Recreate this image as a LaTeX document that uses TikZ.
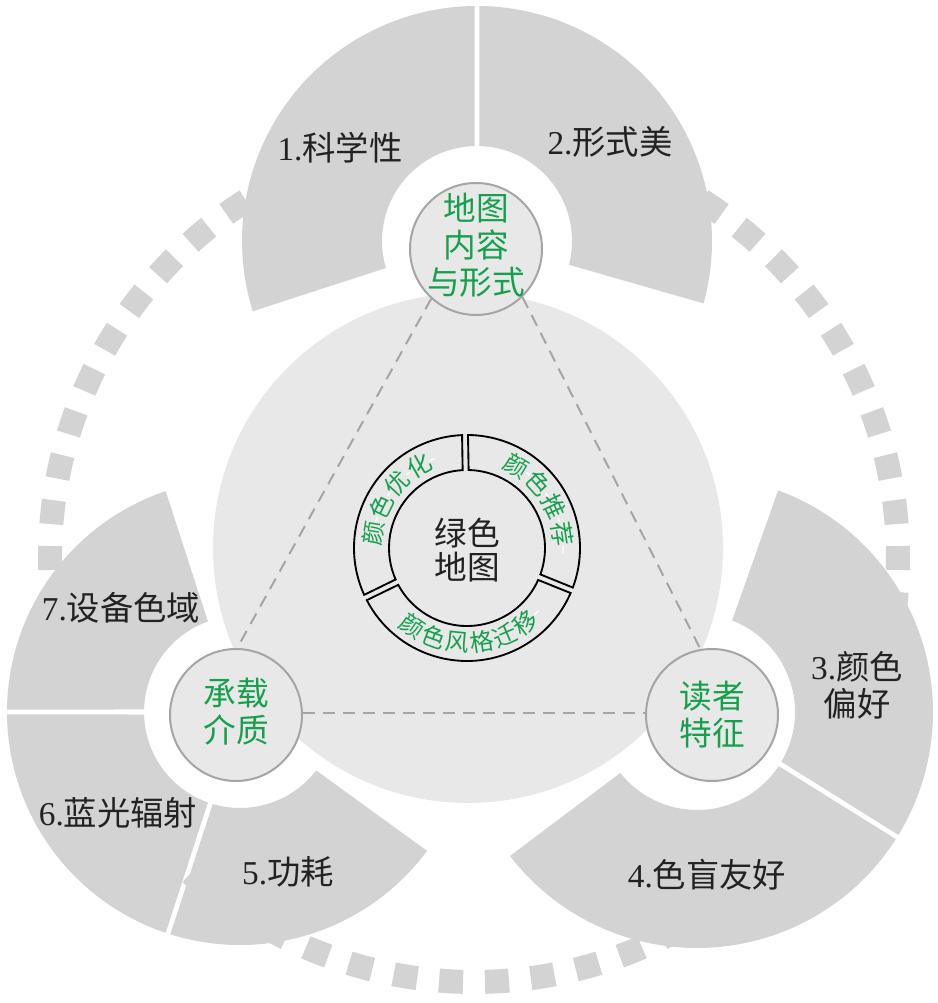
\documentclass[tikz,border=0pt]{standalone}
\usepackage{fontspec}
\setmainfont{Liberation Serif}
\newfontfamily\cjk{Noto Sans CJK SC}
\usepackage{tikz}
\usetikzlibrary
  {
    calc,        % polar offsets from the centres
  }

\definecolor{petalgray}{RGB}{211,211,211}
\definecolor{coregray}{RGB}{232,232,232}
\definecolor{edgegray}{RGB}{165,165,165}
\definecolor{mapgreen}{RGB}{22,160,78}
\definecolor{labelink}{RGB}{34,34,34}

\tikzset{
  hub/.style={circle, fill=coregray, draw=edgegray, line width=1.5pt,
    minimum size=99pt, inner sep=0pt},
  hubtext/.style={align=center, text=mapgreen,
    font=\cjk\fontsize{24.5pt}{27.75pt}\selectfont},
  petallabel/.style={align=center, text=labelink,
    font=\cjk\fontsize{25pt}{27.75pt}\selectfont},
  ringchar/.style={inner sep=0pt, fill=coregray, text=mapgreen,
    font=\cjk\fontsize{18pt}{18pt}\selectfont},
  segment/.style={draw=black, line width=1.4pt},
  link/.style={draw=edgegray, line width=1.5pt, dash pattern=on 9pt off 6pt},
  ringdash/.style={draw=petalgray, line width=18pt},
}

% centre, from, to, inner radius, outer radius
\newcommand\petal[5]{%
  \fill[petalgray] ($(#1)+(#2+0.6:#5)$) arc[start angle=#2+0.6, end angle=#3-0.6, radius=#5]
    -- ($(#1)+(#3-1.5:#4)$) arc[start angle=#3-1.5, end angle=#2+1.5, radius=#4] -- cycle;}

% from, to (around the green map)
\newcommand\ringpart[2]{%
  \draw[segment] ($(ctr)+(#1+1.5:113)$) arc[start angle=#1+1.5, end angle=#2-1.5, radius=113]
    -- ($(ctr)+(#2-2.2:78)$) arc[start angle=#2-2.2, end angle=#1+2.2, radius=78] -- cycle;}

\begin{document}
\begin{tikzpicture}[x=0.75pt, y=0.75pt]
    \fill[white] (0,0) rectangle (938,1003);
    \useasboundingbox (0,0) rectangle (938,1003);

    \coordinate (ring) at (474,445);
    \coordinate (ctr) at (467,455);
    \coordinate (topc) at (477,762);
    \coordinate (leftc) at (240,291);
    \coordinate (rightc) at (697,291);

    % dotted outer ring, 58 blocks
    \foreach \k in {0,...,57}
      \draw[ringdash] ($(ring)+(\k*6.2069-1.62:424)$)
        arc[start angle=\k*6.2069-1.62, delta angle=3.24, radius=424];

    % petals
    \petal{topc}{90}{198}{95}{235}
    \petal{topc}{-16}{90}{95}{235}
    \petal{rightc}{-32}{70.5}{98}{236}
    \petal{rightc}{217}{328}{98}{236}
    \petal{leftc}{252}{324}{96}{233}
    \petal{leftc}{180}{252}{96}{233}
    \petal{leftc}{108}{180}{96}{233}

    \fill[coregray] (468,455) circle (255);

    % three hubs
    \node[hub] (content) at (476,754) {};
    \node[hub] (medium) at (236,288) {};
    \node[hub] (reader) at (712,288) {};
    \node[hubtext] (content-t) at ($(content)+(0,4)$) {地图\\内容\\与形式};
    \node[hubtext] (medium-t) at ($(medium)+(0,3)$) {承载\\介质};
    \node[hubtext] (reader-t) at (reader) {读者\\特征};

    \draw[link] (content.228) -- (medium.89);
    \draw[link] (content.-46) -- (reader.100);
    \draw[link] (medium.2) -- (reader.178);

    % green map ring
    \ringpart{91}{206}
    \ringpart{-22}{91}
    \ringpart{206}{338}
    \draw[white, line width=1pt] ($(ctr)+(179:95)$) arc[start angle=179, end angle=110, radius=95];
    \draw[white, line width=1pt] ($(ctr)+(66:96)$) arc[start angle=66, end angle=-3, radius=96];
    \draw[white, line width=1pt] ($(ctr)+(226:95)$) arc[start angle=226, end angle=319, radius=95];
    \foreach \ch [count=\i] in {颜,色,优,化}
      \node[ringchar, rotate=98-17*\i] (opt\i) at ($(ctr)+(188-17*\i:95)$) {\ch};
    \foreach \ch [count=\i] in {颜,色,推,荐}
      \node[ringchar, rotate=-14.2-16.8*\i] (rec\i) at ($(ctr)+(75.8-16.8*\i:96)$) {\ch};
    \foreach \ch [count=\i] in {颜,色,风,格,迁,移}
      \node[ringchar, rotate=310.4+14.6*\i] (sty\i) at ($(ctr)+(220.4+14.6*\i:95)$) {\ch};
    \node[petallabel, font=\cjk\fontsize{24.5pt}{26pt}\selectfont] (green) at ($(ctr)+(0,-2)$) {绿色\\地图};

    % petal labels
    \node[petallabel] (science) at (340,855) {{\rmfamily 1.}科学性};
    \node[petallabel] (beauty) at (610,861) {{\rmfamily 2.}形式美};
    \node[petallabel] (prefer) at (857,318) {{\rmfamily 3.}颜色\\偏好};
    \node[petallabel] (blind) at (707,128) {{\rmfamily 4.}色盲友好};
    \node[petallabel] (power) at (288,131) {{\rmfamily 5.}功耗};
    \node[petallabel] (bluelight) at (118,190) {{\rmfamily 6.}蓝光辐射};
    \node[petallabel] (gamut) at (121,395) {{\rmfamily 7.}设备色域};
\end{tikzpicture}
\end{document}
